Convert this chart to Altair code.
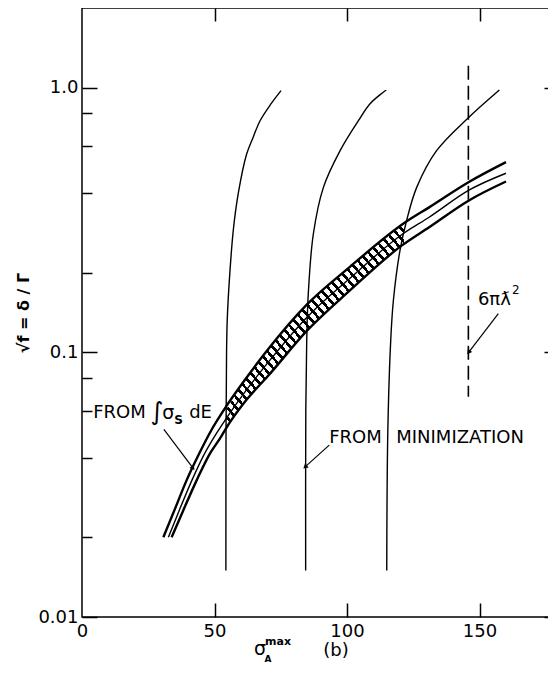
import altair as alt
import pandas as pd

FONT = "DejaVu Sans"

# ---------------- data ----------------
# axis ticks
x_ticks = [0, 50, 100, 150]
x_inner_ticks = [50, 100, 150]
y_major = [0.01, 0.1, 1.0]
y_minor = [0.02, 0.04, 0.06, 0.08, 0.2, 0.4, 0.6, 0.8]

# "FROM MINIMIZATION" curves
min1_x = [54.3, 54.35, 54.55, 54.8, 55.6, 57.1, 59.0, 62.1, 64.6, 67.2, 71.3, 75.1]
min1_y = [0.015, 0.05, 0.1, 0.132, 0.187, 0.29, 0.40, 0.56, 0.65, 0.75, 0.868, 0.975]
min2_x = [84.4, 84.45, 84.8, 85.4, 87.3, 91.1, 97.4, 104.3, 108.7, 114.8]
min2_y = [0.015, 0.06, 0.111, 0.167, 0.28, 0.42, 0.578, 0.75, 0.87, 0.98]
min3_x = [115.0, 115.4, 116.5, 117.5, 120.0, 122.5, 126.3, 133.8, 145.8, 157.5]
min3_y = [0.015, 0.05, 0.111, 0.157, 0.243, 0.315, 0.42, 0.578, 0.77, 0.98]

# "FROM integral sigma_S dE" band
upper_x = [30.7, 35, 39.5, 44, 48.9, 53.5, 62, 70, 85, 101, 122, 131, 146, 160]
upper_y = [0.020, 0.0255, 0.0329, 0.041, 0.051, 0.0605, 0.080, 0.102, 0.152, 0.21, 0.31, 0.353, 0.44, 0.523]
middle_x = [32.6, 36.5, 41.5, 46, 50.5, 54.3, 62, 70, 85, 101, 121, 131, 146, 160]
middle_y = [0.020, 0.025, 0.0329, 0.041, 0.049, 0.056, 0.072, 0.091, 0.136, 0.19, 0.28, 0.324, 0.41, 0.475]
lower_x = [33.8, 38, 43.3, 48, 52.5, 54.3, 62, 70, 85, 101, 120.6, 131, 146, 160]
lower_y = [0.020, 0.025, 0.0329, 0.041, 0.048, 0.0515, 0.066, 0.081, 0.121, 0.171, 0.253, 0.297, 0.375, 0.442]

# cross-hatched part of the band
hatch_x = [54.3, 62, 70, 85, 101, 110, 121.5]
hatch_hi = [0.0605, 0.080, 0.102, 0.152, 0.21, 0.248, 0.307]
hatch_lo = [0.0515, 0.066, 0.081, 0.121, 0.171, 0.206, 0.256]

# 6 pi lambda-bar^2 limit (dashed)
dash_x = [145.8]
dash_top = [1.21]
dash_bottom = [0.068]

# annotation anchors
ann_names = ["integral", "minim", "limit"]
ann_x = [4.2, 93.3, 149.4]
ann_y = [0.0589, 0.0474, 0.157]

# arrows: start -> tip
arrow_x0 = [30.9, 93.3, 157.1]
arrow_y0 = [0.0512, 0.0446, 0.140]
arrow_x1 = [41.9, 84.2, 145.9]
arrow_y1 = [0.0365, 0.0369, 0.100]
arrow_angle = [143, 228, 217]

# ---------------- chart ----------------
W, H = 477, 609
xs = alt.Scale(domain=[0, 180], nice=False, zero=False)
ys = alt.Scale(type="log", domain=[0.01, 2.0], nice=False)


def X(field="x"):
    return alt.X(f"{field}:Q", scale=xs, axis=None)


def Y(field="y"):
    return alt.Y(f"{field}:Q", scale=ys, axis=None)


layers = []

# hatched region (black/white stripes via gradient)
N, frac = 40, 0.4
stops = []
for k in range(N):
    a, b, c = k / N, (k + frac) / N, min((k + 1) / N, 1.0)
    stops += [
        alt.GradientStop(color="black", offset=a),
        alt.GradientStop(color="black", offset=b),
        alt.GradientStop(color="white", offset=b),
        alt.GradientStop(color="white", offset=c),
    ]
hatch_fill = alt.Gradient(gradient="linear", stops=stops, x1=0, y1=1, x2=1, y2=0)
hatch_df = pd.DataFrame({"x": hatch_x, "hi": hatch_hi, "lo": hatch_lo})
layers.append(
    alt.Chart(hatch_df).mark_area(color=hatch_fill, interpolate="monotone").encode(
        x=X(), y=Y("hi"), y2="lo:Q")
)

# band lines
for bx, by, w in [(upper_x, upper_y, 2.4), (middle_x, middle_y, 1.4), (lower_x, lower_y, 2.4)]:
    df = pd.DataFrame({"x": bx, "y": by})
    layers.append(
        alt.Chart(df).mark_line(color="black", strokeWidth=w, interpolate="monotone").encode(
            x=X(), y=Y())
    )

# minimization curves
rows = []
for name, cx, cy in [("c1", min1_x, min1_y), ("c2", min2_x, min2_y), ("c3", min3_x, min3_y)]:
    for i, (a, b) in enumerate(zip(cx, cy)):
        rows.append({"curve": name, "i": i, "x": a, "y": b})
min_df = pd.DataFrame(rows)
layers.append(
    alt.Chart(min_df).mark_line(color="black", strokeWidth=1.4, interpolate="catmull-rom").encode(
        x=X(), y=Y(), detail="curve:N", order="i:Q"
    )
)

# dashed limit
dash_df = pd.DataFrame({"x": dash_x, "top": dash_top, "bottom": dash_bottom})
layers.append(
    alt.Chart(dash_df).mark_rule(color="black", strokeWidth=1.6, strokeDash=[14, 6]).encode(
        x=X(), y=Y("top"), y2="bottom:Q"
    )
)

# arrows
arr_df = pd.DataFrame({"x0": arrow_x0, "y0": arrow_y0, "x1": arrow_x1, "y1": arrow_y1,
                       "ang": arrow_angle})
layers.append(
    alt.Chart(arr_df).mark_rule(color="black", strokeWidth=1.2).encode(
        x=X("x0"), y=Y("y0"), x2="x1:Q", y2="y1:Q"
    )
)
layers.append(
    alt.Chart(arr_df).mark_point(shape="triangle-up", filled=True, color="black", size=30, opacity=1).encode(
        x=X("x1"), y=Y("y1"), angle=alt.Angle("ang:Q", scale=None)
    )
)

# annotation texts (anchor + typographic offsets)
ann_df = pd.DataFrame({"name": ann_names, "x": ann_x, "y": ann_y})
pieces = [
    ("integral", "FROM", 18, 0, 0, "normal"),
    ("integral", "∫", 25, 57, -1, "normal"),
    ("integral", "σ", 19, 69, 0, "normal"),
    ("integral", "S", 12, 81, 7, "bold"),
    ("integral", "dE", 18, 96, 0, "normal"),
    ("minim", "FROM", 18, 0, 0, "normal"),
    ("minim", "MINIMIZATION", 18, 67, 0, "normal"),
    ("limit", "6πƛ", 18, 0, 0, "normal"),
    ("limit", "2", 12, 34, -10, "normal"),
]
for name, txt, size, dx, dy, wt in pieces:
    layers.append(
        alt.Chart(ann_df).transform_filter(alt.datum.name == name).mark_text(
            align="left", baseline="middle", font=FONT, fontSize=size, dx=dx, dy=dy,
            fontWeight=wt, color="black"
        ).encode(x=X(), y=Y(), text=alt.value(txt))
    )

# x-axis title pieces (below the plot)
one = pd.DataFrame({"k": [0]})
for txt, px, py, size, wt in [("σ", 178, 641, 19, "normal"), ("A", 186, 651, 9, "bold"),
                             ("max", 196, 634, 11, "bold"), ("(b)", 254, 643, 18, "normal")]:
    layers.append(
        alt.Chart(one).mark_text(align="center", baseline="middle", font=FONT, fontSize=size,
                                 fontWeight=wt, color="black").encode(
            x=alt.value(px), y=alt.value(py), text=alt.value(txt)
        )
    )

# axes holders
ax_df = pd.DataFrame({"x": [0.0], "y": [0.01]})
major_test = "abs(log(datum.value)/LN10 - round(log(datum.value)/LN10)) < 0.001"
tick_len = {"condition": {"test": major_test, "value": 15}, "value": 10}

label_layer = alt.Chart(ax_df).mark_point(opacity=0).encode(
    x=alt.X("x:Q", scale=xs, axis=alt.Axis(
        orient="bottom", values=x_ticks, ticks=False, domain=False, grid=False,
        labelFont=FONT, labelFontSize=18, labelColor="black", labelPadding=5,
        labelFlush=False, title=None)),
    y=alt.Y("y:Q", scale=ys, axis=alt.Axis(
        orient="left", values=y_major, ticks=False, domain=False, grid=False,
        labelExpr="datum.value >= 1 ? format(datum.value, '.1f') : toString(datum.value)",
        labelFont=FONT, labelFontSize=18, labelColor="black", labelPadding=4,
        title="√f = δ / Γ", titleFont=FONT, titleFontSize=16, titleFontWeight="bold",
        titleColor="black", titlePadding=6)),
)
inner_lb = alt.Chart(ax_df).mark_point(opacity=0).encode(
    x=alt.X("x:Q", scale=xs, axis=alt.Axis(
        orient="top", offset=-H, values=x_inner_ticks, labels=False, domain=False, grid=False,
        tickSize=14, tickWidth=1.5, tickColor="black", title=None)),
    y=alt.Y("y:Q", scale=ys, axis=alt.Axis(
        orient="right", offset=-W, values=y_major + y_minor, labels=False, domain=False,
        grid=False, tickSize=tick_len, tickWidth=1.5, tickColor="black", title=None)),
)
inner_rt = alt.Chart(ax_df).mark_point(opacity=0).encode(
    x=alt.X("x:Q", scale=xs, axis=alt.Axis(
        orient="bottom", offset=-H, values=x_inner_ticks, labels=False, domain=False, grid=False,
        tickSize=13, tickWidth=1.5, tickColor="black", title=None)),
    y=alt.Y("y:Q", scale=ys, axis=alt.Axis(
        orient="left", offset=-W, values=y_major + y_minor, labels=False, domain=False,
        grid=False, tickSize=tick_len, tickWidth=1.5, tickColor="black", title=None)),
)

chart = alt.layer(label_layer, inner_lb, inner_rt, *layers).resolve_axis(
    x="independent", y="independent"
).properties(
    width=W, height=H,
    autosize=alt.AutoSizeParams(type="none"),
    padding={"left": 74, "top": 0, "right": -11, "bottom": 46},
    background="white",
).configure_view(stroke="black", strokeWidth=1.5)

chart.save("out.html", embed_options={"renderer": "svg", "actions": False})
